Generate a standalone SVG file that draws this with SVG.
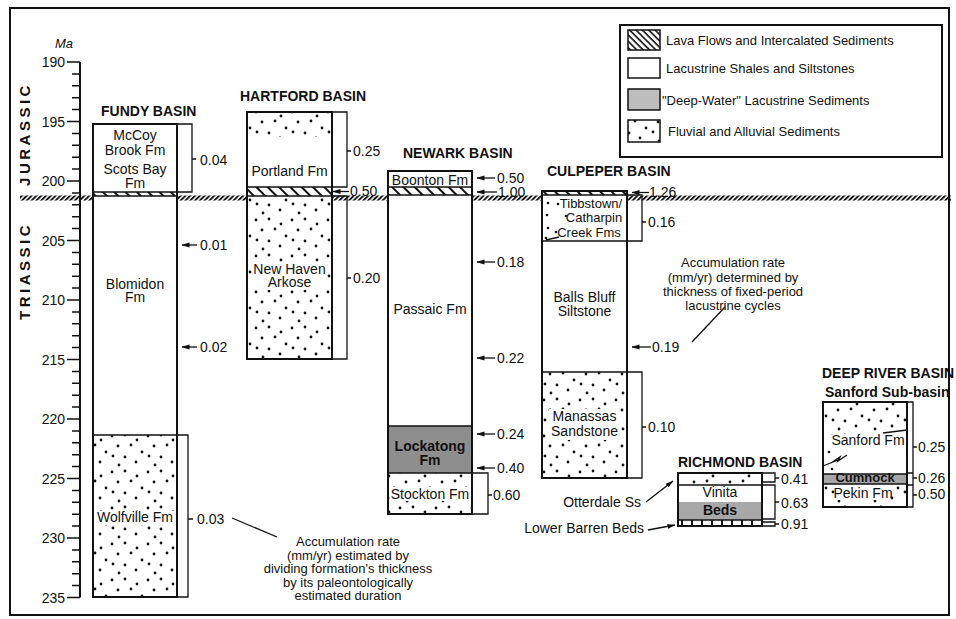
<svg xmlns="http://www.w3.org/2000/svg" width="956" height="619" viewBox="0 0 956 619">
<style>
text{font-family:"Liberation Sans",Arial,sans-serif;fill:#111}
.t{font-size:14px}
.s{font-size:13px}
.b{font-size:14px;font-weight:bold}
.m{text-anchor:middle}
.e{text-anchor:end}
.col{fill:none;stroke:#111;stroke-width:2}
.ln{fill:none;stroke:#111;stroke-width:1.5}
.br{fill:none;stroke:#111;stroke-width:1.3}
.ar{fill:none;stroke:#111;stroke-width:1.3;marker-end:url(#ah)}
</style>
<defs>
<pattern id="dots" width="36" height="36" patternUnits="userSpaceOnUse">
<rect width="36" height="36" fill="#fff"/>
<g fill="#111">
<circle cx="4" cy="4" r="1.4"/><circle cx="17" cy="3" r="1.4"/><circle cx="29" cy="8" r="1.4"/>
<circle cx="10" cy="14" r="1.4"/><circle cx="23" cy="13" r="1.4"/><circle cx="34" cy="20" r="1.4"/>
<circle cx="5" cy="24" r="1.4"/><circle cx="17" cy="25" r="1.4"/><circle cx="28" cy="30" r="1.4"/>
<circle cx="11" cy="33" r="1.4"/>
</g>
</pattern>
<pattern id="hatchC" width="8" height="8" patternUnits="userSpaceOnUse" patternTransform="rotate(-45)">
<rect width="8" height="8" fill="#fff"/>
<line x1="1" y1="0" x2="1" y2="8" stroke="#111" stroke-width="2"/>
</pattern>
<pattern id="hatchL" width="4.5" height="4.5" patternUnits="userSpaceOnUse" patternTransform="rotate(-45)">
<rect width="4.5" height="4.5" fill="#fff"/>
<line x1="1" y1="0" x2="1" y2="4.5" stroke="#111" stroke-width="1.6"/>
</pattern>
<pattern id="bnd" width="3.4" height="3.4" patternUnits="userSpaceOnUse" patternTransform="rotate(45)">
<line x1="0.9" y1="0" x2="0.9" y2="3.4" stroke="#111" stroke-width="2"/>
</pattern>
<pattern id="vbar" width="10" height="6" patternUnits="userSpaceOnUse">
<rect width="10" height="6" fill="#fff"/>
<line x1="2" y1="0" x2="2" y2="6" stroke="#111" stroke-width="2"/>
</pattern>
<marker id="ah" markerWidth="8" markerHeight="6" refX="7.5" refY="3" orient="auto" markerUnits="userSpaceOnUse">
<path d="M0,0.6 L8,3 L0,5.4z" fill="#111"/>
</marker>
</defs>

<rect x="0" y="0" width="956" height="619" fill="#fff"/>
<rect id="frame" x="10" y="8" width="939" height="607" fill="none" stroke="#111" stroke-width="2"/>

<!-- Triassic/Jurassic boundary -->
<rect id="boundary" x="20" y="195.5" width="931" height="5" fill="url(#bnd)"/>

<!-- time axis -->
<g id="axis">
<path d="M80 62V597.5" stroke="#111" stroke-width="2" fill="none"/>
<path stroke="#111" stroke-width="1.5" fill="none" d="M72 73.9H80M72 85.8H80M72 97.7H80M72 109.6H80M72 133.4H80M72 145.3H80M72 157.2H80M72 169.1H80M72 192.9H80M72 204.8H80M72 216.7H80M72 228.6H80M72 252.4H80M72 264.3H80M72 276.2H80M72 288.1H80M72 311.9H80M72 323.8H80M72 335.7H80M72 347.6H80M72 371.4H80M72 383.3H80M72 395.2H80M72 407.1H80M72 430.9H80M72 442.8H80M72 454.7H80M72 466.6H80M72 490.4H80M72 502.3H80M72 514.2H80M72 526.1H80M72 549.9H80M72 561.8H80M72 573.7H80M72 585.6H80"/>
<path stroke="#111" stroke-width="1.6" fill="none" d="M67 62H80M67 121.5H80M67 181H80M67 240.5H80M67 300H80M67 359.5H80M67 419H80M67 478.5H80M67 538H80M67 597.5H80"/>
<text x="55" y="48" class="s" font-style="italic">Ma</text>
<text x="65" y="67" class="t e">190</text>
<text x="65" y="126.5" class="t e">195</text>
<text x="65" y="186" class="t e">200</text>
<text x="65" y="245.5" class="t e">205</text>
<text x="65" y="305" class="t e">210</text>
<text x="65" y="364.5" class="t e">215</text>
<text x="65" y="424" class="t e">220</text>
<text x="65" y="483.5" class="t e">225</text>
<text x="65" y="543" class="t e">230</text>
<text x="65" y="602.5" class="t e">235</text>
<text transform="translate(30,134) rotate(-90)" class="m" font-size="15" font-weight="bold" letter-spacing="3.5">JURASSIC</text>
<text transform="translate(30,271) rotate(-90)" class="m" font-size="15" font-weight="bold" letter-spacing="3.5">TRIASSIC</text>
</g>

<!-- Fundy Basin -->
<g id="fundy">
<text x="101" y="116" class="b">FUNDY BASIN</text>
<rect x="93" y="124" width="84" height="68" fill="#fff"/>
<rect x="93" y="192" width="84" height="4" fill="url(#hatchC)"/>
<rect x="93" y="196" width="84" height="239" fill="#fff"/>
<rect x="93" y="435" width="84" height="162" fill="url(#dots)"/>
<path class="ln" d="M93 192H177M93 196H177M93 435H177"/>
<rect class="col" x="93" y="124" width="84" height="473"/>
<text x="135" y="140" class="t m">McCoy</text>
<text x="135" y="155" class="t m">Brook Fm</text>
<text x="135" y="174" class="t m">Scots Bay</text>
<text x="135" y="187.5" class="t m">Fm</text>
<text x="135" y="289" class="t m">Blomidon</text>
<text x="135" y="302" class="t m">Fm</text>
<rect x="94" y="511" width="82" height="14" fill="#fff"/>
<text x="135" y="522" class="t m">Wolfville Fm</text>
</g>

<!-- Hartford Basin -->
<g id="hartford">
<text x="240" y="101" class="b">HARTFORD BASIN</text>
<rect x="247" y="112" width="85" height="75" fill="#fff"/>
<rect x="248" y="113" width="83" height="24" fill="url(#dots)"/>
<rect x="247" y="187" width="85" height="9" fill="url(#hatchC)"/>
<rect x="247" y="196" width="85" height="163" fill="url(#dots)"/>
<path class="ln" d="M247 187H332M247 196H332"/>
<rect class="col" x="247" y="112" width="85" height="247"/>
<text x="289.5" y="176" class="t m">Portland Fm</text>
<rect x="252" y="263" width="75" height="27" fill="#fff"/>
<text x="289.5" y="274" class="t m">New Haven</text>
<text x="289.5" y="287" class="t m">Arkose</text>
</g>

<!-- Newark Basin -->
<g id="newark">
<text x="403" y="158" class="b">NEWARK BASIN</text>
<rect x="388" y="171" width="84" height="16" fill="#fff"/>
<rect x="388" y="187" width="84" height="8" fill="url(#hatchC)"/>
<rect x="388" y="195" width="84" height="231" fill="#fff"/>
<rect x="388" y="426" width="84" height="47" fill="#8e8e8e"/>
<rect x="388" y="473" width="84" height="41" fill="url(#dots)"/>
<path class="ln" d="M388 187H472M388 195H472M388 426H472M388 473H472"/>
<rect class="col" x="388" y="171" width="84" height="343"/>
<text x="430" y="185" class="t m">Boonton Fm</text>
<text x="430" y="314" class="t m">Passaic Fm</text>
<text x="430" y="451" class="t m" fill="#222" font-weight="bold">Lockatong</text>
<text x="430" y="465" class="t m" fill="#222" font-weight="bold">Fm</text>
<rect x="391" y="487" width="78" height="14" fill="#fff"/>
<text x="430" y="499" class="t m">Stockton Fm</text>
</g>

<!-- Culpeper Basin -->
<g id="culpeper">
<text x="547" y="176" class="b">CULPEPER BASIN</text>
<rect x="542" y="191" width="85" height="4" fill="url(#hatchC)"/>
<rect x="542" y="195" width="85" height="177" fill="#fff"/>
<g fill="#111">
<circle cx="548" cy="203" r="1.3"/><circle cx="558" cy="204" r="1.3"/><circle cx="547" cy="215" r="1.3"/>
<circle cx="566" cy="216" r="1.3"/><circle cx="548" cy="228" r="1.3"/><circle cx="556" cy="232" r="1.3"/>
<circle cx="546" cy="238" r="1.3"/>
</g>
<path class="br" d="M546 240L559 237"/>
<rect x="542" y="372" width="85" height="106" fill="url(#dots)"/>
<path class="ln" d="M542 195H627M542 241H627M542 372H627"/>
<rect class="col" x="542" y="191" width="85" height="287"/>
<text x="591" y="208" class="s m">Tibbstown/</text>
<text x="594" y="222" class="s m">Catharpin</text>
<text x="589" y="237" class="s m">Creek Fms</text>
<text x="584.5" y="302" class="t m">Balls Bluff</text>
<text x="584.5" y="316" class="t m">Siltstone</text>
<rect x="549" y="409" width="71" height="31" fill="#fff"/>
<text x="584.5" y="421" class="t m">Manassas</text>
<text x="584.5" y="436" class="t m">Sandstone</text>
</g>

<!-- Richmond Basin -->
<g id="richmond">
<text x="678" y="467" class="b">RICHMOND BASIN</text>
<rect x="678" y="473" width="84" height="12" fill="url(#dots)"/>
<rect x="678" y="485" width="84" height="17" fill="#fff"/>
<rect x="678" y="502" width="84" height="18" fill="#a8a8a8"/>
<rect x="678" y="520" width="84" height="6" fill="url(#vbar)"/>
<path class="ln" d="M678 485H762M678 520H762"/>
<rect class="col" x="678" y="473" width="84" height="53"/>
<text x="720" y="497" class="t m">Vinita</text>
<text x="720" y="515" class="t m" fill="#222" font-weight="bold">Beds</text>
<text x="641" y="507" class="t e">Otterdale Ss</text>
<text x="644" y="533" class="t e">Lower Barren Beds</text>
</g>

<!-- Deep River Basin -->
<g id="deepriver">
<text x="822" y="378" class="b">DEEP RIVER BASIN</text>
<text x="825" y="397" class="b">Sanford Sub-basin</text>
<rect x="823" y="402" width="84" height="105" fill="#fff"/>
<polygon points="824,403 906,403 906,430 824,435" fill="url(#dots)"/>
<path class="br" d="M883 433L907 430"/>
<rect x="823" y="474" width="84" height="10" fill="#a5a5a5"/>
<rect x="823" y="484" width="84" height="23" fill="url(#dots)"/>
<path class="ln" d="M823 474H907M823 484H907"/>
<g fill="#111"><circle cx="829" cy="452" r="1.3"/><circle cx="832" cy="469" r="1.3"/></g>
<path class="br" d="M823 466L838 460M831 463L840 457L838 461L847 455"/>
<rect class="col" x="823" y="402" width="84" height="105"/>
<text x="868" y="445" class="t m">Sanford Fm</text>
<text x="865" y="482" class="s m" fill="#222" font-weight="bold">Cumnock</text>
<rect x="836" y="486" width="54" height="14" fill="#fff"/>
<text x="863" y="498" class="t m">Pekin Fm</text>
</g>

<!-- Legend -->
<g id="legend">
<rect x="620" y="25" width="322" height="132" fill="#fff" stroke="#111" stroke-width="2"/>
<rect x="628" y="30" width="32" height="20" fill="url(#hatchL)" stroke="#111" stroke-width="1.5"/>
<rect x="628" y="58" width="32" height="20" fill="#fff" stroke="#111" stroke-width="1.5"/>
<rect x="628" y="89" width="32" height="21" fill="#bdbdbd" stroke="#111" stroke-width="1.5"/>
<rect x="628" y="120" width="32" height="22" fill="url(#dots)" stroke="#111" stroke-width="1.5"/>
<text x="666" y="45" class="s">Lava Flows and Intercalated Sediments</text>
<text x="666" y="73" class="s">Lacustrine Shales and Siltstones</text>
<text x="662" y="105" class="s">"Deep-Water" Lacustrine Sediments</text>
<text x="668" y="136" class="s">Fluvial and Alluvial Sediments</text>
</g>

<!-- connectors: brackets, rate arrows, leaders -->
<g id="connectors">
<path class="br" d="M178 124H192V192H178M192 159H196"/>
<path class="br" d="M178 435H188V597H178M188 519H193"/>
<line class="ar" x1="197" y1="245" x2="182" y2="245"/>
<line class="ar" x1="197" y1="347" x2="182" y2="347"/>
<line class="br" x1="232" y1="518" x2="277" y2="537"/>

<path class="br" d="M333 112H347V187H333M347 151H351"/>
<path class="br" d="M333 196H347V359H333M347 278H351"/>
<line class="ar" x1="349" y1="191.5" x2="333" y2="191.5"/>

<line class="ar" x1="495" y1="178" x2="477" y2="178"/>
<line class="ar" x1="497" y1="192" x2="477" y2="192"/>
<line class="ar" x1="495" y1="262" x2="477" y2="262"/>
<line class="ar" x1="495" y1="358" x2="477" y2="358"/>
<line class="ar" x1="495" y1="434" x2="477" y2="434"/>
<line class="ar" x1="495" y1="468" x2="477" y2="468"/>
<path class="br" d="M473 473H488V514H473M488 495H492"/>

<line class="ar" x1="649" y1="192.5" x2="632" y2="192.5"/>
<path class="br" d="M628 195H642V241H628M642 222H646"/>
<line class="ar" x1="651" y1="347" x2="632" y2="347"/>
<path class="br" d="M628 372H642V478H628M642 427H646"/>
<line class="br" x1="692" y1="342" x2="725" y2="307"/>

<path class="br" d="M763 473H775V482H763M763 485H775V519H763M763 522H775V526H763M775 478H779M775 502H779M775 524H779"/>
<line class="ar" x1="646" y1="502" x2="673" y2="481"/>
<line class="ar" x1="648" y1="530" x2="675" y2="525"/>

<path class="br" d="M908 402H913V507H908M908 473H913M908 485H913M913 447H917M913 478H917M913 495H917"/>
</g>

<!-- rate labels -->
<g id="rates">
<text x="200" y="165" class="t">0.04</text>
<text x="200" y="250" class="t">0.01</text>
<text x="200" y="352" class="t">0.02</text>
<text x="197" y="524" class="t">0.03</text>
<text x="353" y="156" class="t">0.25</text>
<text x="350" y="196" class="t">0.50</text>
<text x="353" y="283" class="t">0.20</text>
<text x="497" y="183" class="t">0.50</text>
<text x="498" y="197" class="t">1.00</text>
<text x="497" y="267" class="t">0.18</text>
<text x="497" y="363" class="t">0.22</text>
<text x="497" y="439" class="t">0.24</text>
<text x="497" y="473" class="t">0.40</text>
<text x="493" y="500" class="t">0.60</text>
<text x="649" y="197" class="t">1.26</text>
<text x="648" y="227" class="t">0.16</text>
<text x="652" y="352" class="t">0.19</text>
<text x="648" y="432" class="t">0.10</text>
<text x="781" y="484" class="t">0.41</text>
<text x="781" y="508" class="t">0.63</text>
<text x="781" y="529" class="t">0.91</text>
<text x="918" y="452" class="t">0.25</text>
<text x="918" y="483" class="t">0.26</text>
<text x="918" y="499" class="t">0.50</text>
</g>

<!-- annotations -->
<g id="note-fundy">
<text x="348" y="546" class="s m">Accumulation rate</text>
<text x="348" y="559.5" class="s m">(mm/yr) estimated by</text>
<text x="348" y="573" class="s m">dividing formation's thickness</text>
<text x="348" y="586.5" class="s m">by its paleontologically</text>
<text x="348" y="600" class="s m">estimated duration</text>
</g>
<g id="note-culpeper">
<text x="733" y="267" class="s m">Accumulation rate</text>
<text x="733" y="282" class="s m">(mm/yr) determined by</text>
<text x="733" y="296" class="s m">thickness of fixed-period</text>
<text x="733" y="310" class="s m">lacustrine cycles</text>
</g>
</svg>
